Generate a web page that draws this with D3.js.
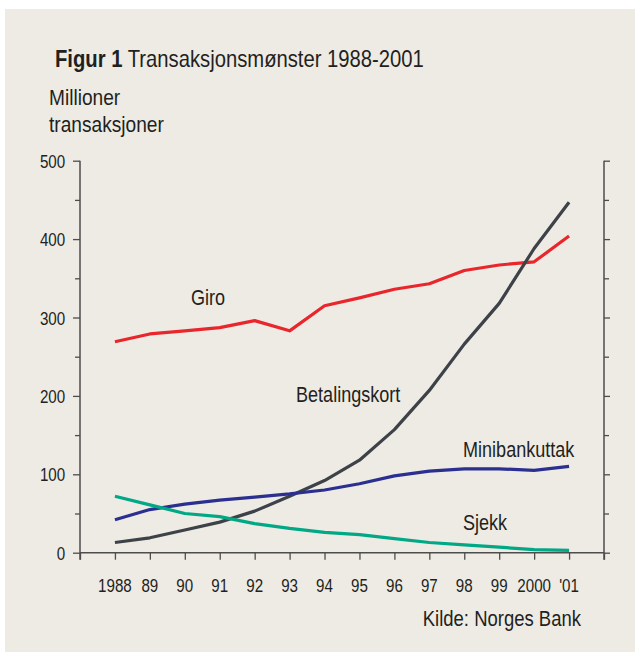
<!DOCTYPE html>
<html>
<head>
<meta charset="utf-8">
<script src="https://cdn.jsdelivr.net/npm/d3@7"></script>
<style>
  html, body { margin: 0; padding: 0; background: #ffffff; }
  svg { display: block; }
  text { font-family: "Liberation Sans", Arial, sans-serif; fill: #231f20; }
</style>
</head>
<body>
<svg id="chart" width="635" height="652"></svg>
<script>
// ---- data ----
const years = [1988, 1989, 1990, 1991, 1992, 1993, 1994, 1995, 1996, 1997, 1998, 1999, 2000, 2001];
const yearLabels = ["1988", "89", "90", "91", "92", "93", "94", "95", "96", "97", "98", "99", "2000", "'01"];
const giro = [269, 279, 283, 287, 296, 283, 315, 325, 336, 343, 360, 367, 371, 404];
const betalingskort = [13, 19, 29, 39, 53, 72, 92, 118, 157, 207, 266, 318, 388, 447];
const minibankuttak = [42, 55, 62, 67, 71, 75, 80, 88, 98, 104, 107, 107, 105, 110];
const sjekk = [72, 61, 50, 46, 37, 31, 26, 23, 18, 13, 10, 7, 4, 3];
const yMajor = [0, 100, 200, 300, 400, 500];
const yMinor = [50, 150, 250, 350, 450];
const xTickYears = [1987, 1988, 1989, 1990, 1991, 1992, 1993, 1994, 1995, 1996, 1997, 1998, 1999, 2000, 2001, 2002];

const series = [
  { name: "Giro", values: giro, color: "#e9262c", lx: 191, ly: 305 },
  { name: "Betalingskort", values: betalingskort, color: "#3c4247", lx: 296, ly: 402 },
  { name: "Minibankuttak", values: minibankuttak, color: "#2b3090", lx: 463, ly: 457 },
  { name: "Sjekk", values: sjekk, color: "#00a886", lx: 463, ly: 530 }
];

const svg = d3.select("#chart");
svg.append("rect").attr("x", 5).attr("y", 9).attr("width", 630).attr("height", 643).attr("fill", "#eeebe5");

const x = d3.scaleLinear().domain([1987, 2002]).range([80, 604]);
const y = d3.scaleLinear().domain([0, 500]).range([552.7, 160.7]);

function sText(g, str, px, py, size, sx, opts = {}) {
  const t = g.append("text")
    .attr("transform", `translate(${px},${py}) scale(${sx},1)`)
    .attr("font-size", size)
    .attr("text-anchor", opts.anchor || "start")
    .text(str);
  if (opts.weight) t.attr("font-weight", opts.weight);
  return t;
}

// Title
const tt = svg.append("text")
  .attr("transform", "translate(55,66.7) scale(0.88,1)")
  .attr("font-size", 23);
tt.append("tspan").attr("font-weight", "bold").text("Figur 1");
tt.append("tspan").text(" Transaksjonsmønster 1988-2001");

sText(svg, "Millioner", 49, 105, 21.5, 0.89);
sText(svg, "transaksjoner", 49, 131.5, 21.5, 0.89);
sText(svg, "Kilde: Norges Bank", 581, 626, 21.5, 0.86, { anchor: "end" });

const axisColor = "#4d4d4d";

// Left axis
const gL = svg.append("g").attr("transform", `translate(${x(1987)},0)`);
gL.call(d3.axisLeft(y).tickValues(yMajor).tickSize(7).tickSizeOuter(0).tickPadding(11));
gL.append("g").call(d3.axisLeft(y).tickValues(yMinor).tickSize(5).tickSizeOuter(0).tickFormat(""));
gL.selectAll(".domain").remove();
gL.selectAll("line").attr("stroke", axisColor).attr("stroke-width", 1.3);
gL.selectAll("text").attr("font-size", 18.5).attr("fill", "#231f20")
  .attr("font-family", "Liberation Sans, Arial, sans-serif")
  .attr("transform", "scale(0.82,1)").attr("dy", "0.36em");

// Right axis
const gR = svg.append("g").attr("transform", `translate(${x(2002)},0)`);
gR.call(d3.axisRight(y).tickValues(yMajor).tickSize(6).tickSizeOuter(0).tickFormat(""));
gR.append("g").call(d3.axisRight(y).tickValues(yMinor).tickSize(5).tickSizeOuter(0).tickFormat(""));
gR.selectAll(".domain").remove();
gR.selectAll("line").attr("stroke", axisColor).attr("stroke-width", 1.3);

// Bottom axis
const gB = svg.append("g").attr("transform", `translate(0,${y(0)})`);
gB.call(d3.axisBottom(x).tickValues(xTickYears).tickSize(7).tickSizeOuter(0).tickFormat(""));
gB.selectAll(".domain").remove();
gB.selectAll("line").attr("stroke", axisColor).attr("stroke-width", 1.3);

// axis lines
svg.append("line").attr("x1", x(1987)).attr("x2", x(1987)).attr("y1", y(500)).attr("y2", y(0) + 7)
  .attr("stroke", axisColor).attr("stroke-width", 1.5);
svg.append("line").attr("x1", x(2002)).attr("x2", x(2002)).attr("y1", y(500)).attr("y2", y(0) + 7)
  .attr("stroke", axisColor).attr("stroke-width", 1.5);
svg.append("line").attr("x1", x(1987)).attr("x2", x(2002)).attr("y1", y(0)).attr("y2", y(0))
  .attr("stroke", axisColor).attr("stroke-width", 1.5);

// x labels
const gXL = svg.append("g");
years.forEach((yr, i) => {
  sText(gXL, yearLabels[i], x(yr), 592, 18.5, 0.82, { anchor: "middle" });
});

// lines
const line = d3.line().x((d, i) => x(years[i])).y(d => y(d));
series.forEach(s => {
  svg.append("path").datum(s.values)
    .attr("d", line)
    .attr("fill", "none")
    .attr("stroke", s.color)
    .attr("stroke-width", 3.2)
    .attr("stroke-linejoin", "round");
  sText(svg, s.name, s.lx, s.ly, 21.5, 0.84);
});
</script>
</body>
</html>
